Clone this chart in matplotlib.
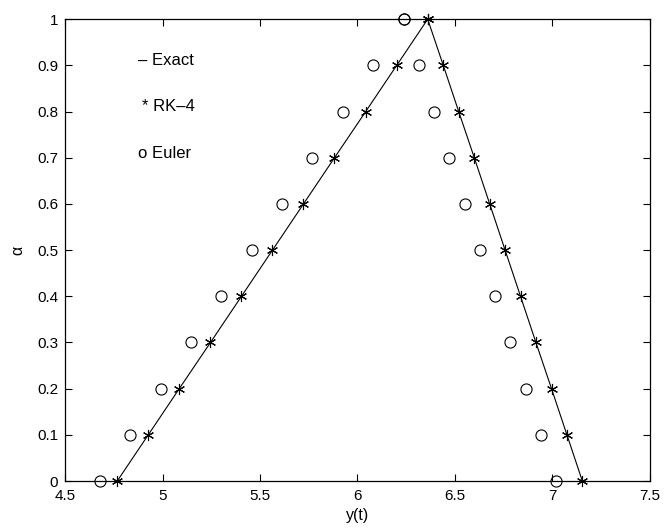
import matplotlib
matplotlib.use('Agg')
import matplotlib.pyplot as plt
import numpy as np

plt.rcParams['font.family'] = ['Liberation Sans', 'DejaVu Sans']

# alpha levels
alpha = [0.0, 0.1, 0.2, 0.3, 0.4, 0.5, 0.6, 0.7, 0.8, 0.9, 1.0]

# exact solution (lower / upper bound)
exact_lo = [4.768, 4.927, 5.086, 5.246, 5.405, 5.564, 5.723, 5.882, 6.042, 6.201, 6.36]
exact_hi = [7.153, 7.074, 6.995, 6.915, 6.836, 6.757, 6.678, 6.599, 6.519, 6.440, 6.36]

# RK-4 (on top of exact)
rk_lo = [4.768, 4.927, 5.086, 5.246, 5.405, 5.564, 5.723, 5.882, 6.042, 6.201, 6.36]
rk_hi = [7.153, 7.074, 6.995, 6.915, 6.836, 6.757, 6.678, 6.599, 6.519, 6.440, 6.36]

# Euler
eu_lo = [4.678, 4.834, 4.990, 5.146, 5.302, 5.458, 5.613, 5.769, 5.925, 6.081, 6.237]
eu_hi = [7.016, 6.940, 6.862, 6.784, 6.706, 6.628, 6.550, 6.469, 6.394, 6.315, 6.237]

fig = plt.figure(figsize=(6.64, 5.29), dpi=100)
ax = fig.add_axes([0.0979, 0.0907, 0.881, 0.873])

# exact line: up the left side, down the right side
ex_x = exact_lo + exact_hi[::-1]
ex_y = alpha + alpha[::-1]
ax.plot(ex_x, ex_y, color='black', lw=0.8)

star = (6, 2, 0)
ax.plot(rk_lo, alpha, ls='none', marker=star, ms=8, mew=0.8, color='black', clip_on=False)
ax.plot(rk_hi, alpha, ls='none', marker=star, ms=8, mew=0.8, color='black', clip_on=False)
ax.plot(eu_lo, alpha, ls='none', marker='o', ms=8, mfc='none', mec='black', mew=0.8, clip_on=False)
ax.plot(eu_hi, alpha, ls='none', marker='o', ms=8, mfc='none', mec='black', mew=0.8, clip_on=False)

ax.set_xlim(4.5, 7.5)
ax.set_ylim(0, 1)
xt = [4.5, 5, 5.5, 6, 6.5, 7, 7.5]
ax.set_xticks(xt)
ax.set_xticklabels(['4.5', '5', '5.5', '6', '6.5', '7', '7.5'])
yt = np.round(np.arange(0, 1.01, 0.1), 1)
ax.set_yticks(yt)
ax.set_yticklabels(['0'] + [f'{v:g}' for v in yt[1:-1]] + ['1'])
ax.tick_params(direction='in', top=True, right=True, length=5, width=0.8,
               labelsize=11)
ax.tick_params(axis='x', pad=6)
ax.tick_params(axis='y', pad=5)
for s in ax.spines.values():
    s.set_linewidth(0.9)

ax.set_xlabel('y(t)', fontsize=11.5, labelpad=3)
ax.set_ylabel('α', fontsize=11.5, labelpad=8)

ax.text(4.875, 0.911, '– Exact', fontsize=12, va='center')
ax.text(4.895, 0.81, '* RK–4', fontsize=12, va='center')
ax.text(4.875, 0.71, 'o Euler', fontsize=12, va='center')

fig.savefig('out.png', dpi=100)
